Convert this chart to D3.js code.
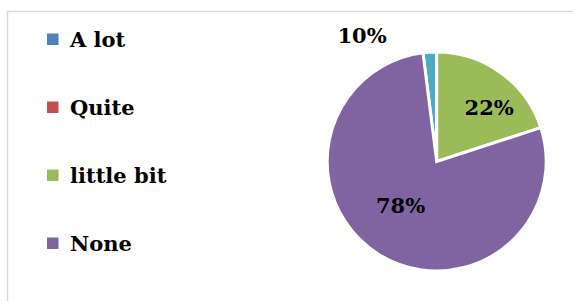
<!DOCTYPE html>
<html>
<head>
<meta charset="utf-8">
<script src="https://cdn.jsdelivr.net/npm/d3@7"></script>
<style>
  body { margin: 0; background: #fff; }
  svg text { font-family: "DejaVu Serif", serif; font-weight: bold; fill: #000; }
</style>
</head>
<body>
<div id="chart"></div>
<script>
// data
const categories = ['A lot', 'Quite', 'little bit', 'None'];
const shares = [2, 0, 20, 78];            // slice sizes as drawn
const labels = ['10%', '', '22%', '78%'];  // labels as printed on the chart

// styles
const legendColors = ['#4F81BD', '#C0504D', '#9BBB59', '#8064A2'];
const sliceColors = ['#4BACC6', '#C0504D', '#9BBB59', '#8064A2'];

const width = 573, height = 301;
const svg = d3.select('#chart').append('svg')
    .attr('width', width)
    .attr('height', height);

// chart frame (runs off the right and bottom edges)
svg.append('rect')
    .attr('x', 7.5).attr('y', 11.5)
    .attr('width', 600).attr('height', 320)
    .attr('fill', 'none')
    .attr('stroke', '#d9d9d9')
    .attr('stroke-width', 1.5);

// legend
const legendY = d3.scalePoint()
    .domain(categories)
    .range([39.5, 243.5]);

const legend = svg.selectAll('g.legend')
    .data(categories)
    .enter()
    .append('g')
    .attr('class', 'legend')
    .attr('transform', d => `translate(47, ${legendY(d)})`);

legend.append('rect')
    .attr('x', 0).attr('y', -6)
    .attr('width', 11.5).attr('height', 11.5)
    .attr('fill', (d, i) => legendColors[i]);

legend.append('text')
    .attr('x', 23).attr('y', 7.5)
    .style('font-size', '21px')
    .text(d => d);

// pie
const cx = 436.7, cy = 161.5, r = 109.5;
const startOffset = -2 / 100 * 2 * Math.PI;

const pie = d3.pie()
    .sort(null)
    .value(d => d)
    .startAngle(startOffset)
    .endAngle(startOffset + 2 * Math.PI);

const arcs = pie(shares);
const arc = d3.arc().innerRadius(0).outerRadius(r);

const g = svg.append('g').attr('transform', `translate(${cx}, ${cy})`);

g.selectAll('path')
    .data(arcs.filter(d => d.value > 0))
    .enter()
    .append('path')
    .attr('d', arc)
    .attr('fill', d => sliceColors[d.index])
    .attr('stroke', '#fff')
    .attr('stroke-width', 3)
    .attr('stroke-linejoin', 'miter');

// label placement: radius factor and angle shift (deg) per slice, best-fit style
const labelPlace = [[1.34, -27], [0, 0], [0.69, 8], [0.52, 7]];

function labelPoint(d) {
    const [k, shift] = labelPlace[d.index];
    const a = (d.startAngle + d.endAngle) / 2 + shift * Math.PI / 180;
    return d3.arc().innerRadius(k * r).outerRadius(k * r)
        .centroid({ startAngle: a, endAngle: a });
}

g.selectAll('text')
    .data(arcs.filter(d => labels[d.index] !== ''))
    .enter()
    .append('text')
    .attr('transform', d => `translate(${labelPoint(d)})`)
    .attr('text-anchor', 'middle')
    .attr('dy', '0.36em')
    .style('font-size', '21px')
    .text(d => labels[d.index]);
</script>
</body>
</html>
